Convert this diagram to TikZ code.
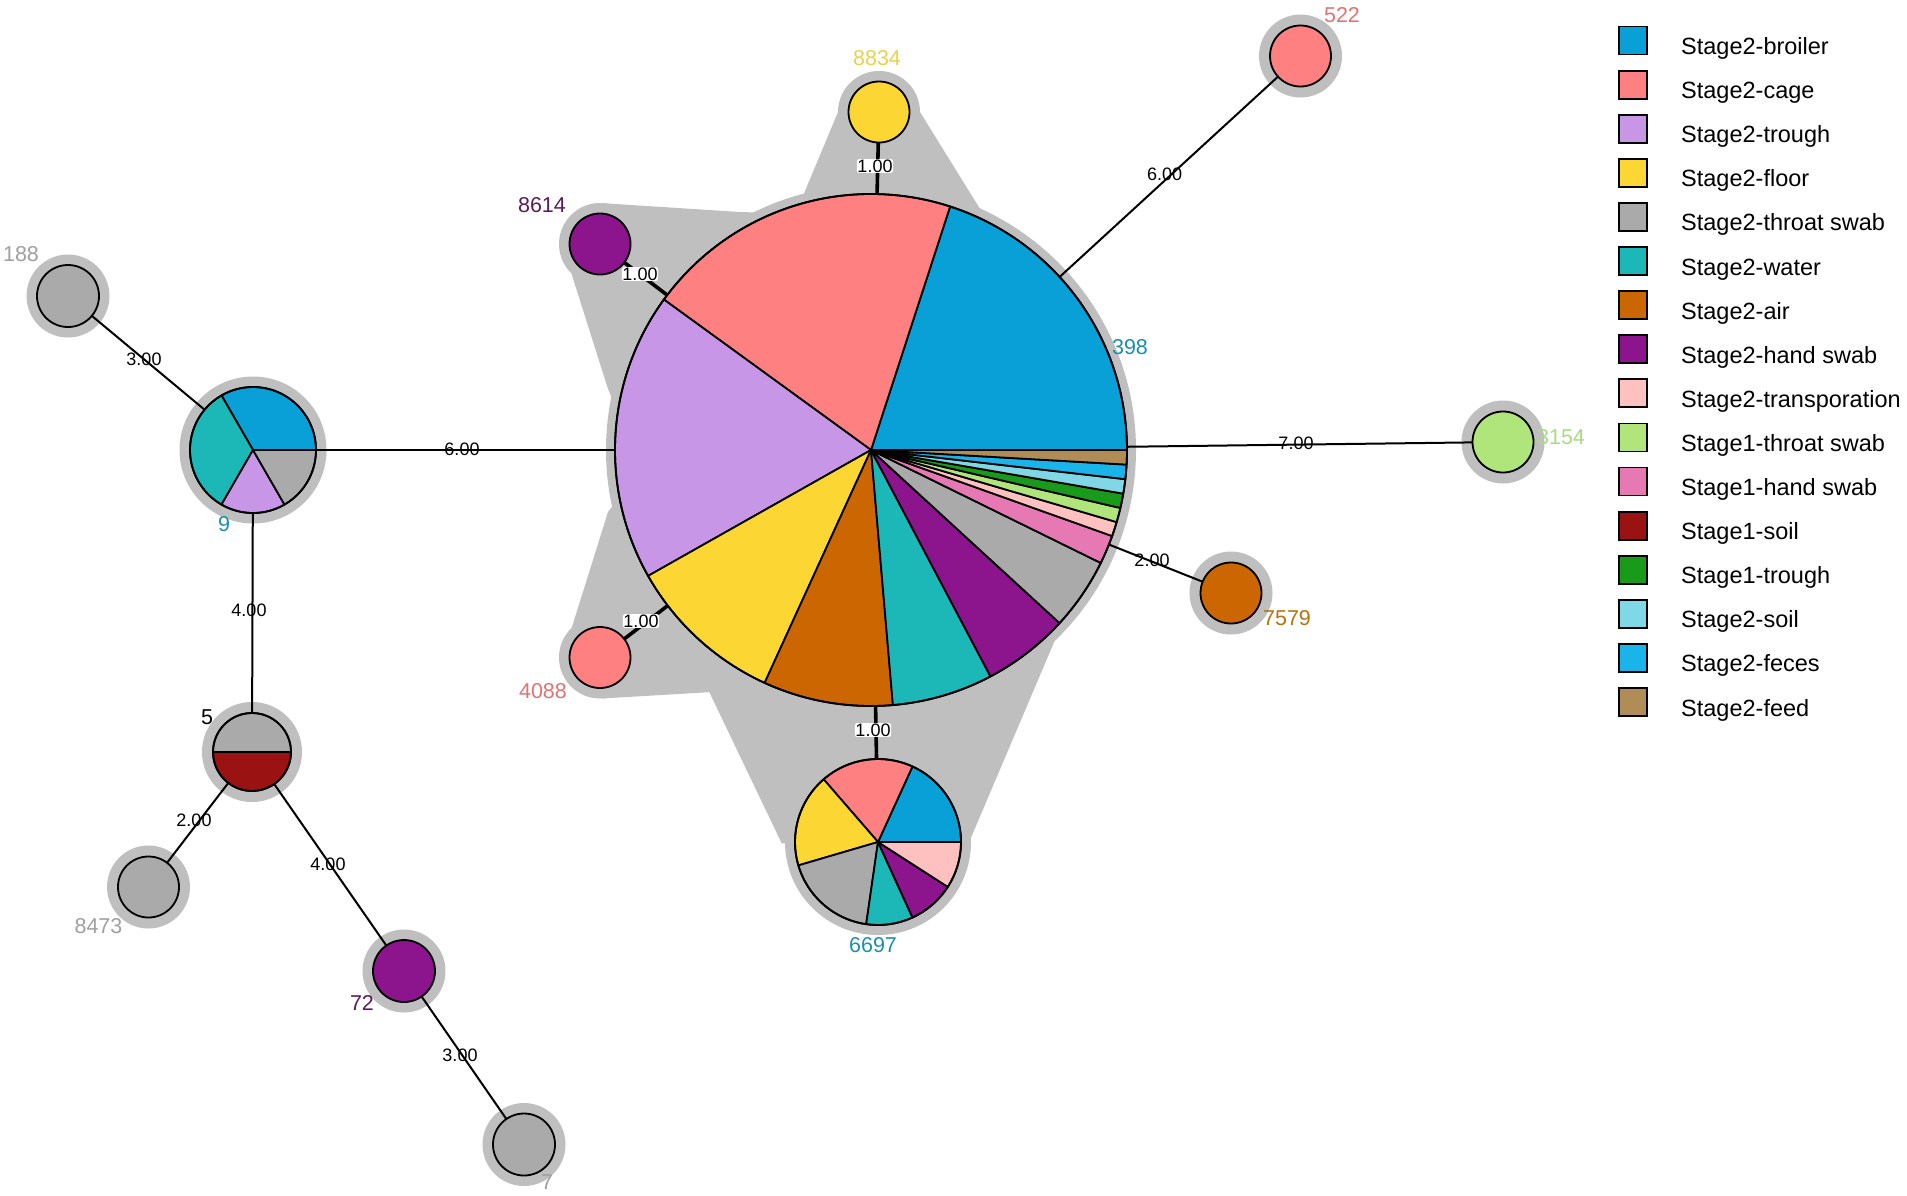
\documentclass[tikz,border=0pt]{standalone}
\usepackage{fontspec}
\setmainfont{Liberation Sans}
\definecolor{cBro}{HTML}{08A0D6}
\definecolor{cCag}{HTML}{FF8080}
\definecolor{cTro}{HTML}{C896E6}
\definecolor{cFlo}{HTML}{FCD734}
\definecolor{cThr}{HTML}{AAAAAA}
\definecolor{cWat}{HTML}{1CB8B8}
\definecolor{cAir}{HTML}{CC6600}
\definecolor{cHan}{HTML}{8C148C}
\definecolor{cTra}{HTML}{FFC0C0}
\definecolor{cSat}{HTML}{B0E57C}
\definecolor{cSha}{HTML}{E679B4}
\definecolor{cSso}{HTML}{9A1212}
\definecolor{cStr}{HTML}{1A9A1A}
\definecolor{cSoi}{HTML}{80D8E6}
\definecolor{cFec}{HTML}{1AB4EA}
\definecolor{cFee}{HTML}{B08C56}
\definecolor{halo}{HTML}{BFBFBF}
\definecolor{lYel}{HTML}{E8D24E}
\definecolor{lPur}{HTML}{5C1A5C}
\definecolor{lSal}{HTML}{E07474}
\definecolor{lTea}{HTML}{1A90AA}
\definecolor{lGrn}{HTML}{A8DC80}
\definecolor{lBrn}{HTML}{B8720E}
\definecolor{lGry}{HTML}{A0A0A0}
\newcommand\mypie[3]{%
  \foreach \pa/\pb/\pc in {#3} {%
    \filldraw[fill=\pc, pieline] (#1) -- ++(-\pa:#2) arc[start angle=-\pa, end angle=-\pb, radius=#2] -- cycle;}%
  \draw[pieline] (#1) circle[radius=#2];}
\begin{document}
\begin{tikzpicture}[x=1pt,y=-1pt,
  nd/.style={circle, inner sep=0pt, draw=none},
  pieline/.style={draw=black, line width=1.8pt, line join=round},
  thinedge/.style={line width=2pt},
  thickedge/.style={line width=3.6pt},
  elabel/.style={font=\fontsize{18}{20}\selectfont, inner sep=0.5pt},
  wlabel/.style={elabel, fill=white, rounded corners=2pt},
  nlabel/.style={font=\fontsize{21.5}{24}\selectfont, inner sep=0pt},
  legtext/.style={font=\fontsize{23.5}{26}\selectfont, anchor=base west, inner sep=0pt},
  legbox/.style={draw=black, line width=1.8pt}]
\fill[white] (0,0) rectangle (1907,1195);
\useasboundingbox (0,0) rectangle (1907,1195);
% nodes
\node[nd, minimum size=512] (main) at (871,450) {};
\node[nd, minimum size=61] (n8834) at (879,112) {};
\node[nd, minimum size=61] (n8614) at (600,244) {};
\node[nd, minimum size=61] (n4088) at (600,657.5) {};
\node[nd, minimum size=166] (n6697) at (878,842) {};
\node[nd, minimum size=61] (n522) at (1300.5,56) {};
\node[nd, minimum size=61] (n3154) at (1503,442) {};
\node[nd, minimum size=61] (n7579) at (1231,593) {};
\node[nd, minimum size=126] (n9) at (253,450) {};
\node[nd, minimum size=62] (n188) at (68,296) {};
\node[nd, minimum size=78] (n5) at (252,752) {};
\node[nd, minimum size=61] (n8473) at (148.5,887) {};
\node[nd, minimum size=62] (n72) at (404,971) {};
\node[nd, minimum size=62] (n7) at (524,1144.5) {};
% cluster hull
\fill[halo] (main.center) circle[radius=265];
\fill[halo] (n8834.center) circle[radius=41];
\fill[halo] (838,112) -- (920,112) -- (990,225) -- (871,300) -- (795,215) -- cycle;
\fill[halo] (n8614.center) circle[radius=41];
\fill[halo] (600,203) -- (740,212) -- (805,214) -- (850,300) -- (630,440) -- (608,389) -- (571.7,274.3) -- cycle;
\fill[halo] (n4088.center) circle[radius=41];
\fill[halo] (571.7,627.9) -- (608,512) -- (640,470) -- (740,560) -- (712,692) -- (602,698.5) -- cycle;
\fill[halo] (n6697.center) circle[radius=93];
\fill[halo] (665,600) -- (706.7,686.7) -- (781.7,843.3) -- (970,840) -- (1055,640) -- (1076,590) -- cycle;
% other halos
\foreach \n in {n522,n3154,n7579,n188,n8473,n72,n7} {\fill[halo] (\n.center) circle[radius=41.5];}
\fill[halo] (n9.center) circle[radius=73.5];
\fill[halo] (n5.center) circle[radius=50];
% edges
\draw[thickedge] (main) -- (n8834);
\draw[thickedge] (main) -- (n8614);
\draw[thickedge] (main) -- (n4088);
\draw[thickedge] (main) -- (n6697);
\draw[thinedge] (main) -- (n522);
\draw[thinedge] (main) -- (n3154);
\draw[thinedge] (main) -- (n7579);
\draw[thinedge] (main) -- (n9);
\draw[thinedge] (n9) -- (n188);
\draw[thinedge] (n9) -- (n5);
\draw[thinedge] (n5) -- (n8473);
\draw[thinedge] (n5) -- (n72);
\draw[thinedge] (n72) -- (n7);
% pies
\mypie{main.center}{256}{0/72/cBro, 72/144/cCag, 144/209.45/cTro, 209.45/245.45/cFlo, 245.45/274.91/cAir, 274.91/297.82/cWat, 297.82/317.45/cHan, 317.45/333.82/cThr, 333.82/340.36/cSha, 340.36/343.64/cTra, 343.64/346.91/cSat, 346.91/350.18/cStr, 350.18/353.45/cSoi, 353.45/356.73/cFec, 356.73/360/cFee}
\mypie{n6697.center}{83}{0/65.45/cBro, 65.45/130.91/cCag, 130.91/196.36/cFlo, 196.36/261.82/cThr, 261.82/294.55/cWat, 294.55/327.27/cHan, 327.27/360/cTra}
\mypie{n9.center}{63}{0/120/cBro, 120/240/cWat, 240/300/cTro, 300/360/cThr}
\mypie{n5.center}{39}{0/180/cThr, 180/360/cSso}
\filldraw[fill=cFlo, pieline] (n8834.center) circle[radius=30.5];
\filldraw[fill=cHan, pieline] (n8614.center) circle[radius=30.5];
\filldraw[fill=cCag, pieline] (n4088.center) circle[radius=30.5];
\filldraw[fill=cCag, pieline] (n522.center) circle[radius=30.5];
\filldraw[fill=cSat, pieline] (n3154.center) circle[radius=30.5];
\filldraw[fill=cAir, pieline] (n7579.center) circle[radius=30.5];
\filldraw[fill=cThr, pieline] (n188.center) circle[radius=31];
\filldraw[fill=cThr, pieline] (n8473.center) circle[radius=30.5];
\filldraw[fill=cHan, pieline] (n72.center) circle[radius=31];
\filldraw[fill=cThr, pieline] (n7.center) circle[radius=31];
% edge labels
\node[wlabel] (e1) at (875,166) {1.00};
\node[wlabel] (e2) at (640,274) {1.00};
\node[wlabel] (e3) at (641,621) {1.00};
\node[wlabel] (e4) at (873,730) {1.00};
\node[elabel] (e5) at (1164.6,174) {6.00};
\node[elabel] (e6) at (1296,443) {7.00};
\node[elabel] (e7) at (1152,560) {2.00};
\node[elabel] (e8) at (462,449) {6.00};
\node[elabel] (e9) at (144,359) {3.00};
\node[elabel] (e10) at (249,610) {4.00};
\node[elabel] (e11) at (194,820) {2.00};
\node[elabel] (e12) at (328,864) {4.00};
\node[elabel] (e13) at (460,1055) {3.00};
% node labels
\node[nlabel, text=lYel] (l8834) at (877,58) {8834};
\node[nlabel, text=lPur] (l8614) at (542,205) {8614};
\node[nlabel, text=lSal] (l4088) at (543,691) {4088};
\node[nlabel, text=lTea] (l6697) at (873,945) {6697};
\node[nlabel, text=lTea] (l398) at (1130,347) {398};
\node[nlabel, text=lSal] (l522) at (1342,15) {522};
\node[nlabel, text=lGrn] (l3154) at (1561,437) {3154};
\node[nlabel, text=lBrn] (l7579) at (1287,618) {7579};
\node[nlabel, text=lGry] (l188) at (21,254) {188};
\node[nlabel, text=lTea] (l9) at (224,524) {9};
\node[nlabel, text=black] (l5) at (207,717) {5};
\node[nlabel, text=lGry] (l8473) at (98.5,926) {8473};
\node[nlabel, text=lPur] (l72) at (362,1003) {72};
\node[nlabel, text=lGry] (l7) at (547,1182) {7};
% legend
\foreach \t/\c [count=\i from 0] in {Stage2-broiler/cBro, Stage2-cage/cCag, Stage2-trough/cTro, Stage2-floor/cFlo, Stage2-throat swab/cThr, Stage2-water/cWat, Stage2-air/cAir, Stage2-hand swab/cHan, Stage2-transporation/cTra, Stage1-throat swab/cSat, Stage1-hand swab/cSha, Stage1-soil/cSso, Stage1-trough/cStr, Stage2-soil/cSoi, Stage2-feces/cFec, Stage2-feed/cFee} {
  \pgfmathsetmacro\yy{40.5+44.1*\i}
  \filldraw[fill=\c, legbox] (1619,\yy-14) rectangle (1647,\yy+14);
  \node[legtext] (leg\i) at (1681,\yy+14) {\t};
}
\end{tikzpicture}
\end{document}
